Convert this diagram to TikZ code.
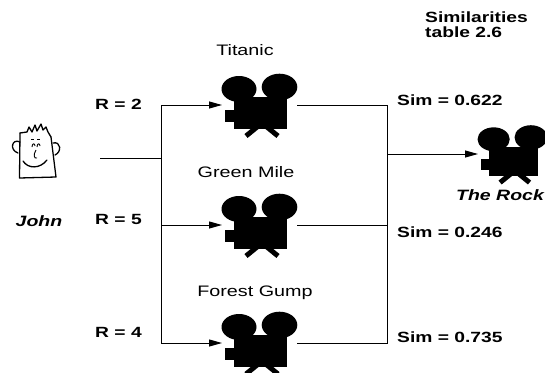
\documentclass[tikz,border=0pt]{standalone}
\usepackage{fontspec}
\setmainfont{Liberation Sans}[FakeStretch=1.3]
\usetikzlibrary{arrows.meta}

\begin{document}
\begin{tikzpicture}[x=1pt,y=-1pt,
  wire/.style={line width=1pt, black},
  arr/.style={wire, -{Triangle[length=13pt,width=7pt]}},
  lbl/.style={inner sep=0pt, font=\fontsize{14.8}{17}\selectfont\bfseries},
  lblit/.style={inner sep=0pt, font=\fontsize{15}{17}\selectfont\bfseries\itshape},
  title/.style={inner sep=0pt, font=\fontsize{15.2}{17}\selectfont},
  sketch/.style={line width=1.3pt, line cap=round, line join=round},
  camera/.pic={
    % two film reels
    \fill (17,-16) ellipse [x radius=17.5, y radius=13];
    \fill (57.5,-18) ellipse [x radius=17.8, y radius=13.3];
    % body and lens
    \fill (12,-8) rectangle (65,24);
    \fill (3,5) rectangle (13,17);
    % tripod
    \draw[line width=5pt] (24,31) -- (40,18) -- (56,31);
    \coordinate (-in) at (0,0);
    \coordinate (-out) at (75,0);
  }
]
\useasboundingbox (0,0) rectangle (545,372);

% the user
\draw[sketch] (20,133) -- (19.5,178) -- (56,177) -- (51,137);
\draw[sketch] (20,133) -- (27,132) -- (29,127) -- (32,132) -- (35,125)
  -- (37,131) -- (41,124) -- (43,130) -- (46,127) -- (48,132) -- (51,137);
\draw[sketch] (20,142) .. controls (12,138) and (9,150) .. (18,153);
\draw[sketch] (53,143) .. controls (61,141) and (62,152) .. (55,155);
\draw[line width=0.9pt] (31,139) -- (34,139) (37,139) -- (40,139);
\draw[line width=0.9pt] (32,147) .. controls (32,143) and (35,143) .. (35,146);
\draw[line width=0.9pt] (37,147) .. controls (37,143) and (40,143) .. (40,146);
\draw[line width=0.9pt] (36,150) .. controls (33,155) and (34,159) .. (37,158);
\draw[sketch] (23,161) .. controls (28,169) and (40,169) .. (47,160);
\node[lblit, anchor=base] (john) at (39,226) {John};

% movies
\pic (t) at (222,105) {camera};
\pic (g) at (222,225) {camera};
\pic (f) at (222,343) {camera};
\pic[scale=0.92] (r) at (478,154) {camera};

\node[title, anchor=base] (tname) at (245,55) {Titanic};
\node[title, anchor=base] (gname) at (246,177) {Green Mile};
\node[title, anchor=base] (fname) at (255,296) {Forest Gump};
\node[lblit, anchor=base] (rname) at (500,200) {The Rock};

% ratings
\node[lbl, anchor=base west] (r2) at (95,109) {R = 2};
\node[lbl, anchor=base west] (r5) at (95,224) {R = 5};
\node[lbl, anchor=base west] (r4) at (95,337) {R = 4};

% similarities
\node[lbl, anchor=base west] (s1) at (397,105) {Sim = 0.622};
\node[lbl, anchor=base west] (s2) at (397,237) {Sim = 0.246};
\node[lbl, anchor=base west] (s3) at (397,342) {Sim = 0.735};
\node[lbl, anchor=base west] (tab1) at (425,22) {Similarities};
\node[lbl, anchor=base west] (tab2) at (425,37) {table 2.6};

% connectors
\coordinate (start) at (100,158);
\coordinate (split) at (161,158);
\coordinate (merge) at (387,154);
\draw[wire] (start) -- (split);
\draw[wire] (split |- t-in) -- (split |- f-in);
\draw[arr] (split |- t-in) -- (t-in);
\draw[arr] (split |- g-in) -- (g-in);
\draw[arr] (split |- f-in) -- (f-in);
\draw[wire] (t-out) -- (t-out -| merge) -- (f-out -| merge) -- (f-out);
\draw[wire] (g-out) -- (g-out -| merge);
\draw[arr] (merge) -- (r-in);
\end{tikzpicture}
\end{document}
